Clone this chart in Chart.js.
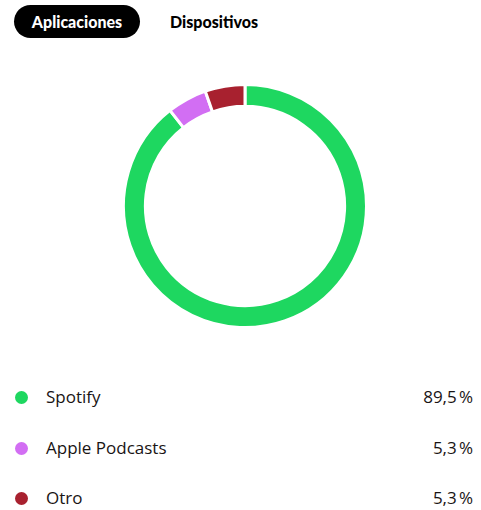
<!DOCTYPE html>
<html>
<head>
<meta charset="utf-8">
<script src="https://cdn.jsdelivr.net/npm/chart.js@4"></script>
<style>
  body { margin: 0; background: #fff; font-family: "Open Sans", sans-serif; width: 481px; height: 510px; position: relative; overflow: hidden; }
  .tab { position: absolute; top: 5px; height: 33px; line-height: 33px; font-weight: 900; font-size: 16px; font-family: Lato, sans-serif; }
  .tab.active { left: 14px; width: 126px; background: #000; color: #fff; border-radius: 17px; text-align: center; }
  .tab.plain { left: 170px; color: #000; }
  #chartBox { position: absolute; left: 122px; top: 83px; width: 246px; height: 246px; }
  .row { position: absolute; left: 0; width: 481px; height: 24px; line-height: 24px; font-size: 17px; color: #191414; }
  .dot { position: absolute; left: 15px; top: 6px; width: 13px; height: 13px; border-radius: 50%; }
  .name { position: absolute; left: 46px; }
  .pct { position: absolute; right: 8px; }
</style>
</head>
<body>
<div class="tab active">Aplicaciones</div>
<div class="tab plain">Dispositivos</div>
<div id="chartBox"><canvas id="appsChart"></canvas></div>
<div id="legend"></div>
<script>
const apps = ["Spotify", "Apple Podcasts", "Otro"];
const shares = [89.5, 5.3, 5.3];
const shareLabels = ["89,5\u202F%", "5,3\u202F%", "5,3\u202F%"];
const colors = ["#1ed760", "#d26ef3", "#a8212f"];

function loadLegend(){
  const legend = document.getElementById("legend");
  const tops = [385, 436, 486];
  apps.forEach((app, i) => {
    const row = document.createElement("div");
    row.className = "row";
    row.style.top = tops[i] + "px";
    row.innerHTML = `
      <span class="dot" style="background:${colors[i]}"></span>
      <span class="name">${app}</span>
      <span class="pct">${shareLabels[i]}</span>
    `;
    legend.appendChild(row);
  });
}

function loadChart(){
  const ctx = document.getElementById("appsChart");
  new Chart(ctx, {
    type: 'doughnut',
    data: {
      labels: apps,
      datasets: [{
        data: shares,
        backgroundColor: colors,
        borderColor: '#ffffff',
        borderWidth: 3
      }]
    },
    options: {
      responsive: true,
      maintainAspectRatio: false,
      animation: false,
      cutout: '82%',
      plugins: {
        legend: { display: false },
        tooltip: { enabled: false }
      }
    }
  });
}

loadLegend();
loadChart();
</script>
</body>
</html>
